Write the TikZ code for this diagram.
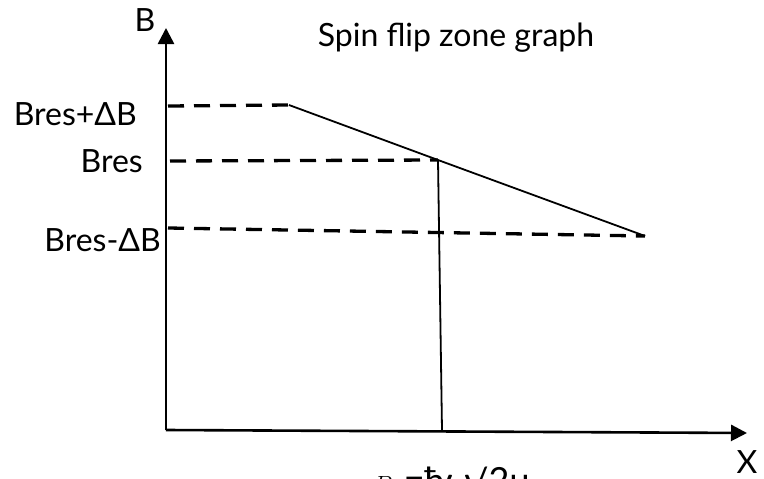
\documentclass[tikz,border=0pt]{standalone}
\usepackage{fontspec}
\setmainfont{Lato}
\usetikzlibrary{arrows.meta}
\begin{document}
\begin{tikzpicture}[x=1pt,y=-1pt,
  axis/.style={line width=2.6pt,-{Triangle[length=16pt,width=16pt]}},
  dashln/.style={line width=3.3pt,dash pattern=on 16pt off 10pt},
  solidln/.style={line width=1.8pt},
  lbl/.style={font=\fontsize{32}{36}\selectfont,inner sep=0pt}]
\useasboundingbox[clip] (0,0) rectangle (764,479);
\coordinate (O) at (166,430);
\coordinate (Ytip) at (166,28);
\coordinate (Xtip) at (747,433);
\draw[axis] (O) -- (Ytip);
\draw[axis] (O) -- (Xtip);
\node[lbl] (B) at (145,20) {B};
\node[lbl] (X) at (747,462) {X};
\node[lbl] (title) at (456,38) {Spin flip zone graph};
\node[lbl,anchor=east] (lp) at (137,114) {Bres+ΔB};
\node[lbl,anchor=east] (lr) at (143,161) {Bres};
\node[lbl,anchor=east] (lm) at (161,240) {Bres-ΔB};
\coordinate (P1) at (289,105);
\coordinate (P2) at (438,160);
\coordinate (P3) at (645,236);
\coordinate (P4) at (442,430);
\draw[dashln] (168,106) -- (P1);
\draw[dashln] (170,161) -- (P2);
\draw[dashln] (168,228) -- (P3);
\draw[solidln] (P1) -- (P2) -- (P3);
\draw[solidln] (P2) -- (P4);
\node[lbl,font=\fontsize{36}{40}\selectfont,anchor=base west] (form) at (373,493) {$B_r$=ħω/2μ};
\end{tikzpicture}
\end{document}
